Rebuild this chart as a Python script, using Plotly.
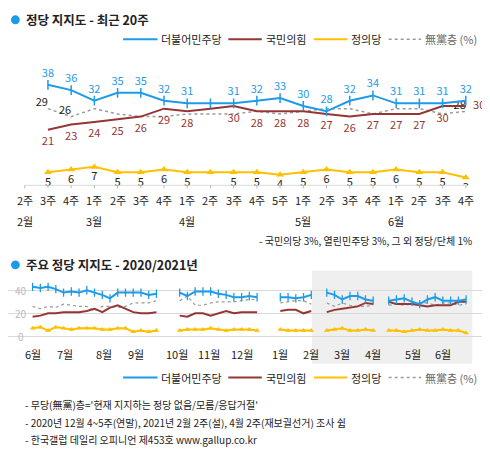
import plotly.graph_objects as go

# ---------- top chart data (recent 20 weeks) ----------
top_weeks = ["2주","3주","4주","1주","2주","3주","4주","1주","2주","3주","4주","5주","1주","2주","3주","4주","1주","2주","3주","4주"]
top_months = {0:"2월",3:"3월",7:"4월",12:"5월",16:"6월"}
top_x = list(range(1, 20))
dem = [38,36,32,35,35,32,31,31,31,32,33,30,28,32,34,31,31,31,32]
ppp = [21,23,24,25,26,29,28,29,30,28,28,28,27,26,27,27,27,30,30]
jus = [5,6,7,5,5,6,5,5,5,5,4,5,6,5,5,6,5,5,3]
non = [29,26,29,27,26,26,27,27,27,28,27,28,29,29,27,29,29,27,28]
dem_lbl = [str(v) for v in dem]; dem_lbl[7] = ""
ppp_lbl = [str(v) for v in ppp]; ppp_lbl[7] = ""
jus_lbl = [str(v) for v in jus]; jus_lbl[7] = ""
non_lbl = ["29","26"] + [""]*16 + ["28"]

# ---------- bottom chart data (2020/2021 weekly, None = no survey) ----------
b_dem = [43,42,43,41,38,39,38,40,38,36,33,38,38,38,38,36,37, None,None,
         38,35,39,39,39,37,36,34,34,35,34, None,None,
         34,34,33,34,36, None,
         38,36,32,35,35,32,31, None,
         31,32,33,30,28,32,34,31,31,31,32]
b_ppp = [17,18,20,20,21,21,21,22,24,21,25,27,24,21,20,20,21, None,None,
         18,17,20,20,18,20,22,20,21,21,21, None,None,
         22,23,23,20,22, None,
         21,23,24,25,26,29,28, None,
         30,28,28,28,27,26,27,27,27,30,30]
b_jus = [7,8,5,8,7,6,7,7,7,6,6,7,7,4,5,4,5, None,None,
         5,6,6,6,7,6,5,6,6,6,5, None,None,
         6,5,5,5,5, None,
         5,6,7,5,5,6,5, None,
         5,5,4,5,6,5,5,6,5,5,3]
b_non = [26,24,26,25,28,27,26,26,22,26,26,25,26,29,29,29,31, None,None,
         31,35,27,27,29,30,30,30,31,32,32, None,None,
         29,30,31,31,28, None,
         29,26,29,27,26,26,27, None,
         27,28,27,28,29,29,27,29,29,27,28]
b_x = list(range(len(b_dem)))
b_month_pos = [0,4.2,9.2,13.4,18.7,22.8,27.1,32,36,40,44,49.2,53]
b_month_lbl = ["6월","7월","8월","9월","10월","11월","12월","1월","2월","3월","4월","5월","6월"]
b_yticks = [0,20,40]

BLUE = "#1E9BE8"; RED = "#963634"; YEL = "#FFC000"; GRAY = "#9A9A9A"
FONT = "Noto Sans CJK KR"
RW, RH = 490, 453        # reference pixel grid
W, H = 482, 444          # figure size (fits visible viewport)

def py(p):
    return 1 - p / RH
def px(p):
    return p / RW

fig = go.Figure()
fig.add_trace(go.Scatter(x=top_x, y=non, mode="lines+text", text=non_lbl, textposition="top left",
    line=dict(color=GRAY, width=1.5, dash="dot"), textfont=dict(color="#222", size=11), xaxis="x", yaxis="y"))
fig.add_trace(go.Scatter(x=top_x, y=ppp, mode="lines+markers+text", text=ppp_lbl,
    textposition=["bottom center"]*18 + ["middle right"],
    line=dict(color=RED, width=2), marker=dict(size=10, opacity=0),
    textfont=dict(color=RED, size=11), xaxis="x", yaxis="y"))
fig.add_trace(go.Scatter(x=top_x, y=dem, mode="lines+markers+text", text=dem_lbl, textposition="top center",
    line=dict(color=BLUE, width=2), marker=dict(symbol="line-ns", size=7, line=dict(color=BLUE, width=1.5)),
    textfont=dict(color=BLUE, size=11), xaxis="x", yaxis="y"))
fig.add_trace(go.Scatter(x=top_x, y=jus, mode="lines+markers+text", text=jus_lbl, textposition="bottom center",
    line=dict(color=YEL, width=2), marker=dict(symbol="triangle-up", size=7, color=YEL),
    textfont=dict(color="#222", size=11), xaxis="x", yaxis="y"))
fig.add_trace(go.Scatter(x=b_x, y=b_non, mode="lines", line=dict(color=GRAY, width=1.2, dash="dot"), xaxis="x2", yaxis="y2"))
fig.add_trace(go.Scatter(x=b_x, y=b_ppp, mode="lines", line=dict(color=RED, width=2), xaxis="x2", yaxis="y2"))
fig.add_trace(go.Scatter(x=b_x, y=b_dem, mode="lines+markers", line=dict(color=BLUE, width=2),
    marker=dict(symbol="line-ns", size=6, line=dict(color=BLUE, width=1.3)), xaxis="x2", yaxis="y2"))
fig.add_trace(go.Scatter(x=b_x, y=b_jus, mode="lines+markers", line=dict(color=YEL, width=2),
    marker=dict(symbol="triangle-up", size=5, color=YEL), xaxis="x2", yaxis="y2"))

tb = 23.6; ta = 17
bb = 7.87; ba = 25
ax_common = dict(showgrid=False, zeroline=False, showticklabels=False, showline=False, fixedrange=True)
fig.update_layout(
    width=W, height=H, margin=dict(l=0, r=0, t=0, b=0), showlegend=False,
    plot_bgcolor="white", paper_bgcolor="white", font=dict(family=FONT, size=11, color="#222"),
    xaxis=dict(domain=[0, 1], range=[-ta / tb, (RW - ta) / tb], **ax_common),
    yaxis=dict(domain=[py(181), py(60)], range=[0, (181 - 60) / 2.7], **ax_common),
    xaxis2=dict(domain=[0, 1], range=[-ba / bb, (RW - ba) / bb], **ax_common),
    yaxis2=dict(domain=[py(363), py(268)], range=[-(363 - 335) / 1.175, (335 - 268) / 1.175],
                showgrid=True, gridcolor="#d9d9d9", gridwidth=1, tickvals=b_yticks, zeroline=False,
                showticklabels=False, fixedrange=True),
)

shapes = []
ann = []
def A(**kw):
    kw.setdefault("xanchor", "center")
    kw.setdefault("yanchor", "middle")
    kw.setdefault("showarrow", False)
    ann.append(kw)

shapes.append(dict(type="line", xref="x", yref="y", x0=0, x1=19, y0=0, y1=0, line=dict(color="#bbb", width=1)))
for i, w in enumerate(top_weeks):
    shapes.append(dict(type="line", xref="x", yref="paper", x0=i, x1=i, y0=py(181), y1=py(184), line=dict(color="#bbb", width=1)))
    A(x=i, y=py(196), xref="x", yref="paper", text=w, font=dict(size=11))
for i, m in top_months.items():
    A(x=i, y=py(217), xref="x", yref="paper", text=m, font=dict(size=11))
shapes.append(dict(type="rect", xref="x2", yref="paper", x0=(309 - 25) / bb, x1=(472 - 25) / bb,
                   y0=py(363), y1=py(268), fillcolor="#efefef", line=dict(width=0), layer="below"))
for v in b_yticks:
    A(x=px(13), y=v, xref="paper", yref="y2", text=str(v), font=dict(size=10, color="#bbb"))
for p, m in zip(b_month_pos, b_month_lbl):
    A(x=p, y=py(353), xref="x2", yref="paper", text=m, font=dict(size=11))

for ty, t in [(12, "정당 지지도 - 최근 20주"), (262, "주요 정당 지지도 - 2020/2021년")]:
    shapes.append(dict(type="circle", xref="paper", yref="paper", x0=px(3), x1=px(12), y0=py(ty + 4.5), y1=py(ty - 4.5),
                       fillcolor=BLUE, line=dict(width=0)))
    A(x=px(16), y=py(ty), xref="paper", yref="paper", text="<b>" + t + "</b>", xanchor="left", font=dict(size=12.5))

def legend(y):
    items = [(117, 152, BLUE, "solid", "더불어민주당", "#222"), (224, 258, RED, "solid", "국민의힘", "#222"),
             (311, 345, YEL, "solid", "정의당", "#222"), (387, 420, GRAY, "dot", "無黨층 (%)", "#666")]
    for x0, x1, c, d, t, tc in items:
        shapes.append(dict(type="line", xref="paper", yref="paper", x0=px(x0), x1=px(x1), y0=py(y), y1=py(y),
                           line=dict(color=c, width=2 if d == "solid" else 1.5, dash=d)))
        A(x=px(x1 + 2), y=py(y), xref="paper", yref="paper", text=t, xanchor="left", font=dict(size=11, color=tc))
legend(32)
legend(377)

A(x=px(474), y=py(237), xref="paper", yref="paper", text="- 국민의당 3%, 열린민주당 3%, 그 외 정당/단체 1%",
  xanchor="right", font=dict(size=10))
notes = ["- 무당(無黨)층='현재 지지하는 정당 없음/모름/응답거절'",
         "- 2020년 12월 4~5주(연말), 2021년 2월 2주(설), 4월 2주(재보궐선거) 조사 쉼",
         "- 한국갤럽 데일리 오피니언 제453호 www.gallup.co.kr"]
for i, n in enumerate(notes):
    A(x=px(15), y=py(405 + 17.5 * i), xref="paper", yref="paper", text=n, xanchor="left", font=dict(size=10))

fig.update_layout(shapes=shapes, annotations=ann)
fig.write_html("out.html")
